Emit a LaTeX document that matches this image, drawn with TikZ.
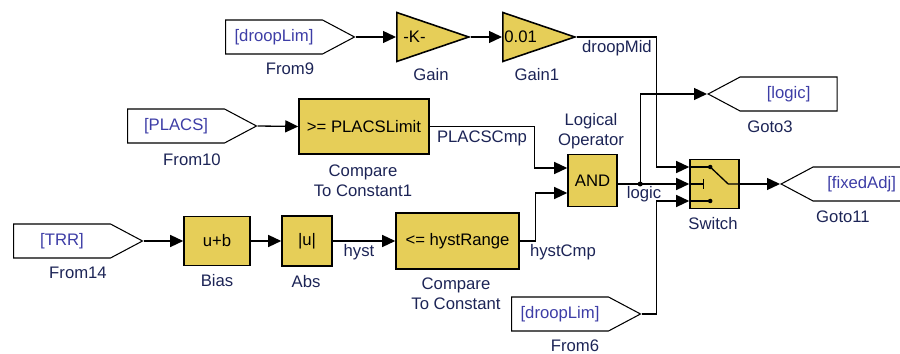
\documentclass[tikz,border=0pt]{standalone}
\usepackage{fontspec}
\setmainfont{Liberation Sans}
\usepackage{xcolor}
\usepackage{tikz}
\usetikzlibrary{shapes.geometric, shapes.symbols, arrows.meta, positioning}
\definecolor{blkfill}{HTML}{E6CE58}
\definecolor{lblcol}{HTML}{1C2456}
\definecolor{tagcol}{HTML}{3D3DA6}
\newcommand{\slfont}{\fontsize{9.5}{11.5}\selectfont}
\tikzset{
  blk/.style={rectangle, draw=black, line width=0.9pt, fill=blkfill, font=\slfont, inner sep=0pt},
  gainblk/.style={isosceles triangle, isosceles triangle stretches, draw=black, line width=0.9pt, fill=blkfill, minimum width=0.98cm, minimum height=1.44cm, inner sep=0pt},
  fromtag/.style={signal, signal to=east, signal pointer angle=56, draw=black, line width=0.6pt, minimum width=2.58cm, minimum height=0.68cm, inner sep=0pt, text=tagcol, font=\slfont},
  gototag/.style={fromtag, signal to=west},
  lbl/.style={font=\slfont, text=lblcol, inner sep=0pt, align=center, anchor=north},
  sig/.style={font=\slfont, text=lblcol, inner sep=0pt},
  arr/.style={-{Triangle[length=2.6mm, width=2.4mm]}, line width=0.75pt},
  wire/.style={line width=0.75pt},
}

\begin{document}
\begin{tikzpicture}[x=0.02cm, y=-0.02cm]
\useasboundingbox (0,0) rectangle (900,354);
% top row
\node[fromtag, anchor=west] (from9) at (225,37) {[droopLim]};
\node[gainblk, anchor=lower side] (gain) at (396,37) {};
\node[gainblk, anchor=lower side] (gain1) at (502,37) {};
\node[font=\slfont, anchor=west, inner sep=0pt] (gain-k) at ([xshift=0.14cm]gain.lower side) {-K-};
\node[font=\slfont, anchor=west, inner sep=0pt] (gain1-k) at ([xshift=0.04cm]gain1.lower side) {0.01};
% middle row
\node[fromtag, anchor=west] (from10) at (127,126) {[PLACS]};
\node[blk, minimum width=2.6cm, minimum height=1.1cm] (cmp1) at (364,126.5) {>= PLACSLimit};
\node[blk, minimum width=0.98cm, minimum height=1.04cm] (and) at (592.5,180.5) {AND};
\node[blk, minimum width=0.98cm, minimum height=0.98cm] (sw) at (714.5,184) {};
\node[gototag, anchor=west] (goto3) at (707,94) {[logic]};
\node[gototag, anchor=west] (goto11) at (780,184) {[fixedAdj]};
% bottom row
\node[fromtag, anchor=west] (from14) at (13,241) {[TRR]};
\node[blk, minimum width=1.32cm, minimum height=0.98cm] (bias) at (217,241) {u+b};
\node[blk, minimum width=1.0cm, minimum height=1.0cm] (abs) at (307,241) {|u|};
\node[blk, minimum width=2.46cm, minimum height=1.12cm] (cmp) at (457.5,241) {<= hystRange};
\node[fromtag, anchor=west] (from6) at (511,314) {[droopLim]};
% ports
\coordinate (and-in1) at ([yshift=0.25cm]and.west);
\coordinate (and-in2) at ([yshift=-0.25cm]and.west);
\coordinate (sw-in1) at ([yshift=0.34cm]sw.west);
\coordinate (sw-in2) at (sw.west);
\coordinate (sw-in3) at ([yshift=-0.34cm]sw.west);
\coordinate (branch) at ([xshift=-0.98cm]sw-in2);
% block names
\node[lbl] (from9-lbl) at (290,62) {From9};
\node[lbl] (gain-lbl) at (431,68) {Gain};
\node[lbl] (gain1-lbl) at (537,68) {Gain1};
\node[lbl] (from10-lbl) at (192,153) {From10};
\node[lbl] (cmp1-lbl) at (363,164) {Compare\\To Constant1};
\node[lbl] (from14-lbl) at (78,267) {From14};
\node[lbl] (bias-lbl) at (217,274) {Bias};
\node[lbl] (abs-lbl) at (306,275) {Abs};
\node[lbl] (cmp-lbl) at (456,277) {Compare\\To Constant};
\node[lbl] (from6-lbl) at (575,339) {From6};
\node[lbl] (and-lbl) at (591,113) {Logical\\Operator};
\node[lbl] (goto3-lbl) at (770,120) {Goto3};
\node[lbl] (sw-lbl) at (713,217) {Switch};
\node[lbl] (goto11-lbl) at (843,210) {Goto11};
% signal names
\node[sig] (droopmid) at (617,48) {droopMid};
\node[sig] (placscmp) at (482,138) {PLACSCmp};
\node[sig] (hyst) at (359,252) {hyst};
\node[sig] (hystcmp) at (563,252) {hystCmp};
\node[sig] (logic) at (644,194) {logic};
% wires
\draw[arr] (from9.east) -- (gain.lower side);
\draw[arr] (gain.apex) -- (gain1.lower side);
\draw[arr] (gain1.apex) -| ([xshift=-0.66cm]sw-in1) -- (sw-in1);
\draw[arr] (from10.east) -- (cmp1.west);
\draw[arr] (cmp1.east) -| ([xshift=-0.66cm]and-in1) -- (and-in1);
\draw[arr] (from14.east) -- (bias.west);
\draw[arr] (bias.east) -- (abs.west);
\draw[arr] (abs.east) -- (cmp.west);
\draw[arr] (cmp.east) -| ([xshift=-0.64cm]and-in2) -- (and-in2);
\draw[arr] (and.east |- sw-in2) -- (sw-in2);
\draw[arr] (branch) |- (goto3.west);
\fill (branch) circle (0.05cm);
\draw[arr] (from6.east) -| ([xshift=-0.66cm]sw-in3) -- (sw-in3);
\draw[arr] (sw.east) -- (goto11.west);
% switch symbol
\draw[wire] (sw-in1) -- ++(21,0) coordinate (sw-p1);
\draw[wire] (sw-in3) -- ++(21,0) coordinate (sw-p3);
\draw[wire] (sw-in2) -- ++(14,0) coordinate (sw-p2);
\draw[wire] ([yshift=0.1cm]sw-p2) -- ([yshift=-0.1cm]sw-p2);
\fill (sw-p1) circle (0.045cm);
\fill (sw-p3) circle (0.045cm);
\draw[wire] (sw-p1) -- ++(18,17) -- (sw.east);
\end{tikzpicture}
\end{document}
